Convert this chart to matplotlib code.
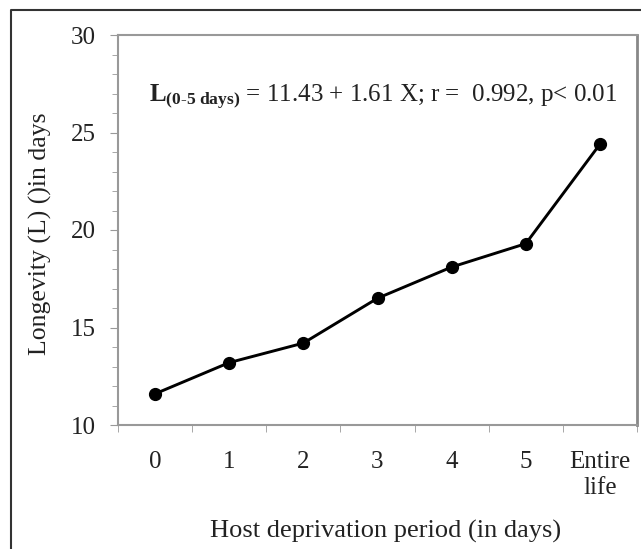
import matplotlib
matplotlib.use("Agg")
import matplotlib.pyplot as plt
from matplotlib.lines import Line2D
from matplotlib.ticker import MultipleLocator, FixedLocator

categories = ["0", "1", "2", "3", "4", "5", "Entire\nlife"]
longevity = [11.6, 13.2, 14.2, 16.5, 18.1, 19.3, 24.4]

plt.rcParams['font.family'] = ['Liberation Serif', 'DejaVu Serif']
plt.rcParams['mathtext.fontset'] = 'custom'
plt.rcParams['mathtext.rm'] = 'Liberation Serif'
plt.rcParams['mathtext.bf'] = 'Liberation Serif:bold'
plt.rcParams['mathtext.it'] = 'Liberation Serif:italic'

W, H = 641, 549
fig = plt.figure(figsize=(W / 100, H / 100), dpi=100)
ax = fig.add_axes([118 / W, 1 - 425 / H, (637 - 118) / W, (425 - 35) / H])

x = list(range(len(categories)))
ax.plot(x, longevity, color='black', lw=2.1, marker='o', ms=8.5, zorder=3)

ax.set_xlim(-0.5, len(categories) - 0.5)
ax.set_ylim(10, 30)
ax.yaxis.set_major_locator(MultipleLocator(5))
ax.yaxis.set_minor_locator(MultipleLocator(1))
ax.set_xticks(x)
ax.set_xticklabels(categories, fontsize=18, color='#222222', linespacing=1.2)
ax.xaxis.set_minor_locator(FixedLocator([i - 0.5 for i in range(len(categories) + 1)]))
ax.tick_params(axis='x', which='major', length=0, pad=19)
ax.tick_params(axis='x', which='minor', length=5, color='#999999', direction='out')
ax.tick_params(axis='y', which='major', length=6, color='#999999', labelsize=18, pad=10)
ax.tick_params(axis='y', which='minor', length=4, color='#999999')
for lbl in ax.get_yticklabels():
    lbl.set_color('#222222')

for s in ['left', 'bottom', 'top']:
    ax.spines[s].set_color('#999999')
    ax.spines[s].set_linewidth(1.5)
ax.spines['right'].set_color('#888888')
ax.spines['right'].set_linewidth(2)

ax.set_xlabel("Host deprivation period (in days)", fontsize=19, color='#222222')
ax.xaxis.set_label_coords(0.515, -0.243)
ax.set_ylabel("Longevity (L) ()in days", fontsize=18.5, color='#222222')
ax.yaxis.set_label_coords(-0.127, 0.49)

ax.text(0.06, 0.841,
        r"$\mathbf{L}_{\mathbf{(0\text{-}5\ days)}}$" + " = 11.43 + 1.61 X; r =  0.992, p< 0.01",
        transform=ax.transAxes, fontsize=18, color='#222222', va='center', ha='left')

fig.add_artist(Line2D([11 / W, 11 / W, 1], [0, 1 - 10 / H, 1 - 10 / H],
                      transform=fig.transFigure, color='#333333', lw=1.5))

fig.savefig("out.png", dpi=100, facecolor='white')
